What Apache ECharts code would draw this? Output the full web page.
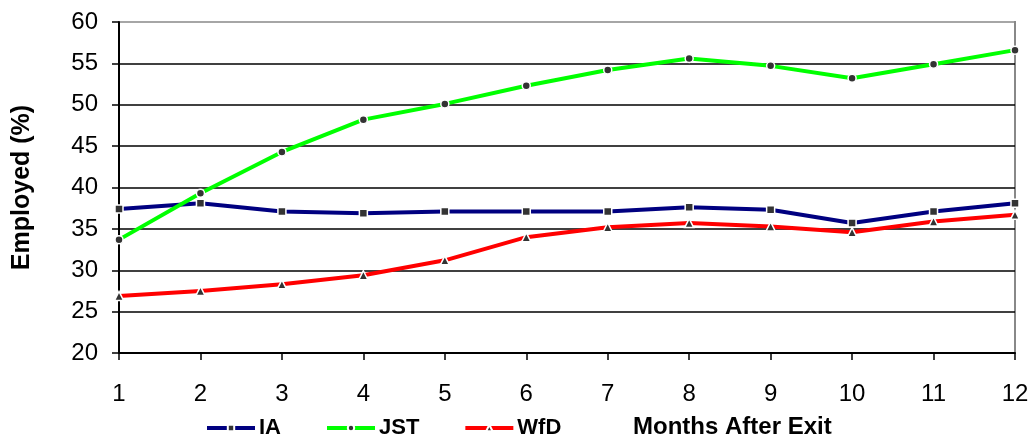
<!DOCTYPE html>
<html>
<head>
<meta charset="utf-8">
<script src="https://cdn.jsdelivr.net/npm/echarts@6/dist/echarts.min.js"></script>
<style>
  html, body { margin: 0; padding: 0; background: #fff; }
  #chart { width: 1034px; height: 441px; }
</style>
</head>
<body>
<div id="chart"></div>
<script>
const months = ['1', '2', '3', '4', '5', '6', '7', '8', '9', '10', '11', '12'];
const iaValues = [37.4, 38.1, 37.1, 36.9, 37.1, 37.1, 37.1, 37.6, 37.3, 35.7, 37.1, 38.1];
const jstValues = [33.7, 39.3, 44.3, 48.2, 50.1, 52.3, 54.2, 55.6, 54.7, 53.2, 54.9, 56.6];
const wfdValues = [26.9, 27.5, 28.3, 29.4, 31.2, 34.0, 35.2, 35.7, 35.3, 34.6, 35.9, 36.7];

const font = 'Liberation Sans, Arial, sans-serif';

const chart = echarts.init(document.getElementById('chart'));

const makeSeries = (name, data, color, symbol) => ({
  name,
  type: 'line',
  data,
  symbol,
  symbolSize: symbol === 'triangle' ? 9 : 8,
  lineStyle: { color, width: 4 },
  itemStyle: { color: '#333', borderColor: '#fff', borderWidth: 1.5 },
  emphasis: { disabled: true },
  animation: false
});

chart.setOption({
  animation: false,
  grid: { left: 119, right: 19, top: 22, bottom: 88 },
  title: {
    text: 'Months After Exit',
    left: 633,
    top: 415,
    padding: 0,
    textStyle: { fontFamily: font, fontSize: 24, fontWeight: 'bold', color: '#000' }
  },
  legend: {
    left: 205,
    top: 417,
    padding: 0,
    itemWidth: 48,
    itemHeight: 8,
    itemGap: 44,
    lineStyle: { width: 4 },
    textStyle: { fontFamily: font, fontSize: 22, fontWeight: 'bold', color: '#000', padding: [0, 0, 0, -1] },
    data: ['IA', 'JST', 'WfD']
  },
  xAxis: {
    type: 'category',
    data: months,
    boundaryGap: false,
    axisLine: { lineStyle: { color: '#000', width: 2 } },
    axisTick: { show: true, length: 7, lineStyle: { color: '#000', width: 1.5 } },
    axisLabel: { fontFamily: font, fontSize: 24, color: '#000', margin: 29 },
    splitLine: { show: false }
  },
  yAxis: {
    type: 'value',
    min: 20,
    max: 60,
    interval: 5,
    name: 'Employed (%)',
    nameLocation: 'middle',
    nameGap: 84,
    nameTextStyle: { fontFamily: font, fontSize: 25, fontWeight: 'bold', color: '#000' },
    axisLine: { show: true, lineStyle: { color: '#000', width: 2 } },
    axisTick: { show: true, length: 7, lineStyle: { color: '#000', width: 1.5 } },
    axisLabel: { fontFamily: font, fontSize: 24, color: '#000', margin: 21 },
    splitLine: {
      lineStyle: {
        color: ['#000', '#000', '#000', '#000', '#000', '#000', '#000', '#000', '#888'],
        width: 1.5
      }
    }
  },
  series: [
    makeSeries('IA', iaValues, '#000080', 'rect'),
    makeSeries('JST', jstValues, '#00ff00', 'circle'),
    makeSeries('WfD', wfdValues, '#ff0000', 'triangle')
  ],
  graphic: [
    {
      type: 'line',
      shape: { x1: 1015, y1: 21, x2: 1015, y2: 353 },
      style: { stroke: '#888', lineWidth: 2 },
      silent: true
    }
  ]
});
</script>
</body>
</html>
